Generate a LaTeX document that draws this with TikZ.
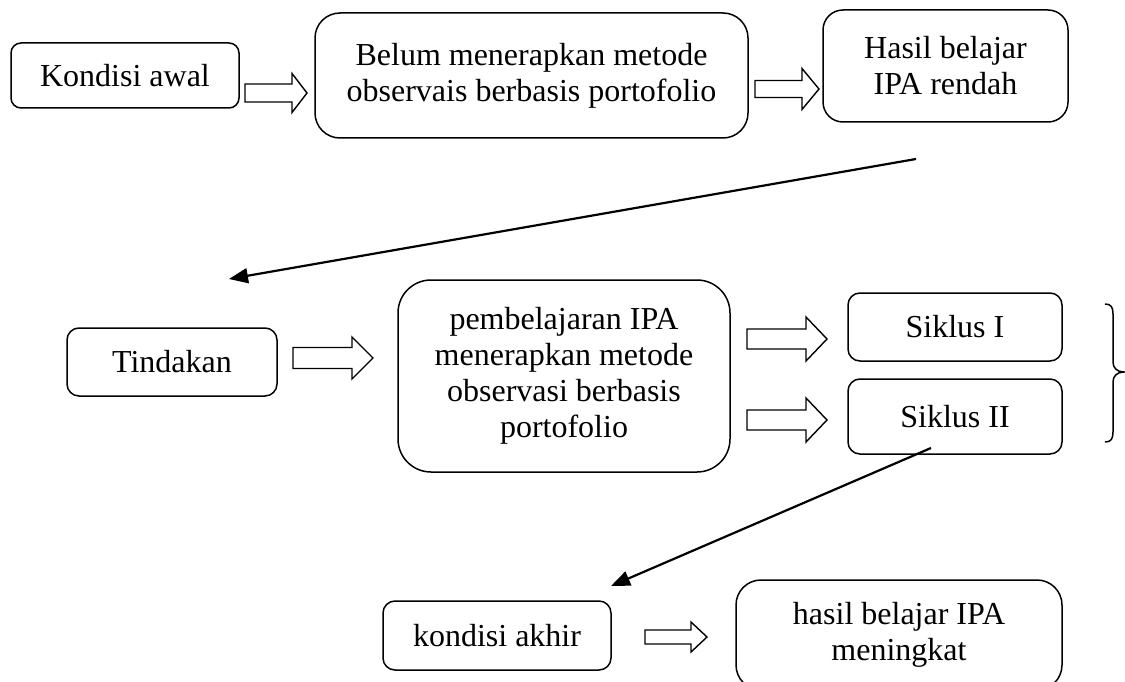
\documentclass[tikz,border=0pt]{standalone}
\usepackage{fontspec}
\setmainfont{Liberation Serif}
\usetikzlibrary{arrows.meta}
\tikzset{
  box/.style={draw, line width=1.5pt, align=center, inner sep=0pt,
    font=\fontsize{32}{36}\selectfont},
  blk/.style={draw, line width=1.4pt, line join=miter},
  conn/.style={line width=2.2pt, -{Triangle[length=19pt,width=15pt]}},
  brace/.style={line width=1.5pt}
}
\newcommand\blkarrow[6]{%
  \draw[blk] (#1,{#3-#4}) -- ({#2-#6},{#3-#4}) -- ({#2-#6},{#3-#5}) -- (#2,#3)
    -- ({#2-#6},{#3+#5}) -- ({#2-#6},{#3+#4}) -- (#1,{#3+#4}) -- cycle;}
\begin{document}
\begin{tikzpicture}[x=1pt,y=-1pt]
\clip (0,0) rectangle (1125,682);
\fill[white] (0,0) rectangle (1125,682);
% boxes
\node[box, rounded corners=10pt, minimum width=228pt, minimum height=65pt] (kawal) at (125,75.5) {Kondisi awal};
\node[box, rounded corners=25pt, minimum width=433pt, minimum height=125pt] (belum) at (531.5,75.5) {Belum menerapkan metode\\observais berbasis portofolio};
\node[box, rounded corners=20pt, minimum width=245pt, minimum height=112pt] (hasil) at (945.5,66) {Hasil belajar\\IPA rendah};
\node[box, rounded corners=12pt, minimum width=210pt, minimum height=68pt] (tind) at (172,362) {Tindakan};
\node[box, rounded corners=33pt, minimum width=332pt, minimum height=192pt] (pemb) at (564,376) {pembelajaran IPA\\menerapkan metode\\observasi berbasis\\portofolio};
\node[box, rounded corners=12pt, minimum width=214pt, minimum height=68pt] (sik1) at (955,327) {Siklus I};
\node[box, rounded corners=12pt, minimum width=214pt, minimum height=75pt] (sik2) at (955,416.5) {Siklus II};
\node[box, rounded corners=12pt, minimum width=228pt, minimum height=69pt] (kakhir) at (497,635.5) {kondisi akhir};
\node[box, rounded corners=25pt, minimum width=326pt, minimum height=110pt] (hmeningkat) at (899,635) {hasil belajar IPA\\meningkat};
% block arrows
\blkarrow{245}{307}{93}{9}{19.5}{15}
\blkarrow{755}{819}{89}{8.5}{20.5}{17}
\blkarrow{293}{373}{358}{10.5}{21}{21}
\blkarrow{747}{827}{339}{10}{22}{21}
\blkarrow{747}{827}{420}{10}{22}{21}
\blkarrow{645}{707}{637}{7}{15}{16}
% connectors
\coordinate (s1) at (916,159);
\coordinate (e1) at (229,279);
\draw[conn] (s1) -- (e1);
\coordinate (s2) at (931,448);
\coordinate (e2) at (611,586);
\draw[conn] (s2) -- (e2);
% brace
\draw[brace] (1105,304) .. controls (1111,304) and (1113,307) .. (1113,314)
  -- (1113,362) .. controls (1113,368) and (1117,372) .. (1124,372)
  .. controls (1117,372) and (1113,376) .. (1113,382)
  -- (1113,432) .. controls (1113,439) and (1111,442) .. (1105,442);
\end{tikzpicture}
\end{document}
